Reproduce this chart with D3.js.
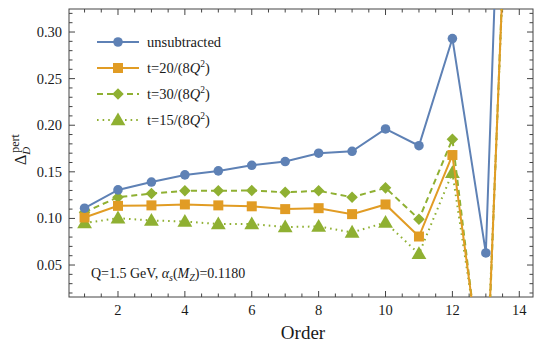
<!DOCTYPE html>
<html>
<head>
<meta charset="utf-8">
<script src="https://cdn.jsdelivr.net/npm/d3@7"></script>
<style>
  html, body { margin: 0; padding: 0; background: #fff; }
  #main { width: 534px; height: 343px; }
</style>
</head>
<body>
<div id="main"></div>
<script>
// orders 1..14
const orders = [1, 2, 3, 4, 5, 6, 7, 8, 9, 10, 11, 12, 13, 14];
const unsubtracted = [0.111, 0.1306, 0.139, 0.1467, 0.151, 0.157, 0.161, 0.170, 0.172, 0.196, 0.178, 0.293, 0.063, 1.10];
const t20 = [0.101, 0.1135, 0.114, 0.115, 0.114, 0.113, 0.110, 0.111, 0.1046, 0.115, 0.0806, 0.168, -0.10, 0.80];
const t30 = [0.1067, 0.1228, 0.1267, 0.1296, 0.1296, 0.130, 0.128, 0.1296, 0.1228, 0.1328, 0.0992, 0.185, -0.11, 0.82];
const t15 = [0.095, 0.1003, 0.0978, 0.0967, 0.094, 0.094, 0.0907, 0.0914, 0.085, 0.0956, 0.062, 0.149, -0.09, 0.78];
const seriesNames = ["unsubtracted", "t=20/(8Q²)", "t=30/(8Q²)", "t=15/(8Q²)"];
const xTicks = [2, 4, 6, 8, 10, 12, 14];
const yTicks = [0.05, 0.10, 0.15, 0.20, 0.25, 0.30];

function createChart() {
    d3.select("#main svg").remove();
    const width = 534, height = 343;
    const margin = {left: 69, right: 1, top: 9, bottom: 46};

    const svg = d3.select("#main").append("svg")
        .attr("width", width)
        .attr("height", height)
        .attr("font-family", "'Liberation Serif', 'Times New Roman', serif")
        .attr("fill", "#1a1a1a");

    const x = d3.scaleLinear().domain([0.535, 14.41]).range([margin.left, width - margin.right]);
    const y = d3.scaleLinear().domain([0.0157, 0.3247]).range([height - margin.bottom, margin.top]);

    const x0 = margin.left, x1 = width - margin.right;
    const y0 = height - margin.bottom, y1 = margin.top;

    // frame
    svg.append("rect")
        .attr("x", x0).attr("y", y1)
        .attr("width", x1 - x0).attr("height", y0 - y1)
        .attr("fill", "none").attr("stroke", "#444").attr("stroke-width", 1);

    // minor/major ticks (pointing inward) on all four sides
    const xMinor = d3.range(1, 14.5, 0.5).filter(v => !xTicks.includes(v));
    const yMinor = d3.range(0.02, 0.325, 0.01).filter(v => !yTicks.some(t => Math.abs(t - v) < 1e-6));
    const tickG = svg.append("g").attr("stroke", "#444").attr("stroke-width", 1);
    function xt(v, len) {
        tickG.append("line").attr("x1", x(v)).attr("x2", x(v)).attr("y1", y0).attr("y2", y0 - len);
        tickG.append("line").attr("x1", x(v)).attr("x2", x(v)).attr("y1", y1).attr("y2", y1 + len);
    }
    function yt(v, len) {
        tickG.append("line").attr("y1", y(v)).attr("y2", y(v)).attr("x1", x0).attr("x2", x0 + len);
        tickG.append("line").attr("y1", y(v)).attr("y2", y(v)).attr("x1", x1).attr("x2", x1 - len);
    }
    xTicks.forEach(v => xt(v, 6));
    xMinor.forEach(v => xt(v, 3.5));
    yTicks.forEach(v => yt(v, 6));
    yMinor.forEach(v => yt(v, 3.5));

    // tick labels
    svg.append("g").selectAll("text").data(xTicks).enter().append("text")
        .attr("x", d => x(d)).attr("y", y0 + 18)
        .attr("text-anchor", "middle").attr("font-size", 14.5)
        .text(d => d);
    svg.append("g").selectAll("text").data(yTicks).enter().append("text")
        .attr("x", x0 - 7).attr("y", d => y(d) + 5)
        .attr("text-anchor", "end").attr("font-size", 14.5)
        .text(d => d.toFixed(2));

    // axis titles
    svg.append("text").attr("x", 303).attr("y", 339)
        .attr("text-anchor", "middle").attr("font-size", 19).text("Order");
    const yl = svg.append("text").attr("transform", "translate(26,165) rotate(-90)")
        .attr("font-size", 16);
    yl.append("tspan").text("Δ");
    yl.append("tspan").attr("font-size", 11).attr("font-style", "italic").attr("dy", 4).text("D");
    yl.append("tspan").attr("font-size", 12).attr("dx", -6).attr("dy", -11).text("pert");

    // annotation
    const an = svg.append("text").attr("x", 91).attr("y", 278).attr("font-size", 14);
    an.append("tspan").text("Q=1.5 GeV, ");
    an.append("tspan").attr("font-style", "italic").text("α");
    an.append("tspan").attr("font-style", "italic").attr("font-size", 10).attr("dy", 3).text("s");
    an.append("tspan").attr("dy", -3).text("(");
    an.append("tspan").attr("font-style", "italic").text("M");
    an.append("tspan").attr("font-style", "italic").attr("font-size", 10).attr("dy", 3).text("Z");
    an.append("tspan").attr("dy", -3).text(")=0.1180");

    // series
    const series = [
        {vals: unsubtracted, color: "#5E81B5", dash: null, shape: "circle"},
        {vals: t20, color: "#E19C24", dash: null, shape: "square"},
        {vals: t30, color: "#8FB032", dash: "6,4", shape: "diamond"},
        {vals: t15, color: "#8FB032", dash: "1.6,4", shape: "triangle"}
    ];
    const symbols = {
        circle: d3.symbol().type(d3.symbolCircle).size(72),
        square: d3.symbol().type(d3.symbolSquare).size(100),
        diamond: d3.symbol().type(d3.symbolDiamond2).size(85),
        triangle: d3.symbol().type(d3.symbolTriangle).size(95)
    };

    svg.append("clipPath").attr("id", "clip").append("rect")
        .attr("x", x0).attr("y", y1).attr("width", x1 - x0).attr("height", y0 - y1);
    const plot = svg.append("g").attr("clip-path", "url(#clip)");

    const line = d3.line().x(d => x(d[0])).y(d => y(d[1]));
    // draw back to front
    [3, 2, 1, 0].forEach(i => {
        const s = series[i];
        const pts = orders.map((o, k) => [o, s.vals[k]]);
        plot.append("path").datum(pts)
            .attr("d", line)
            .attr("fill", "none").attr("stroke", s.color)
            .attr("stroke-width", 2)
            .attr("stroke-dasharray", s.dash);
        plot.append("g").selectAll("path").data(pts).enter().append("path")
            .attr("d", symbols[s.shape])
            .attr("transform", d => `translate(${x(d[0])},${y(d[1]) + (s.shape === "triangle" ? 1 : 0)})`)
            .attr("fill", s.color);
    });

    // legend
    const lg = svg.append("g");
    const rowY = [42, 68, 94, 120];
    series.forEach((s, i) => {
        lg.append("line").attr("x1", 97).attr("x2", 139).attr("y1", rowY[i]).attr("y2", rowY[i])
            .attr("stroke", s.color).attr("stroke-width", 2)
            .attr("stroke-dasharray", s.dash);
        lg.append("path").attr("d", symbols[s.shape])
            .attr("transform", `translate(118,${rowY[i] + (s.shape === "triangle" ? 1 : 0)})`)
            .attr("fill", s.color);
        const t = lg.append("text").attr("x", 147).attr("y", rowY[i] + 5).attr("font-size", 14.5);
        if (i === 0) {
            t.text(seriesNames[0]);
        } else {
            const parts = seriesNames[i].split("Q²");
            t.append("tspan").text(parts[0]);
            t.append("tspan").attr("font-style", "italic").text("Q");
            t.append("tspan").attr("font-size", 9.5).attr("dy", -6).text("2");
            t.append("tspan").attr("dy", 6).text(")");
        }
    });
}

document.addEventListener("DOMContentLoaded", function() {
    createChart();
});
</script>
</body>
</html>
